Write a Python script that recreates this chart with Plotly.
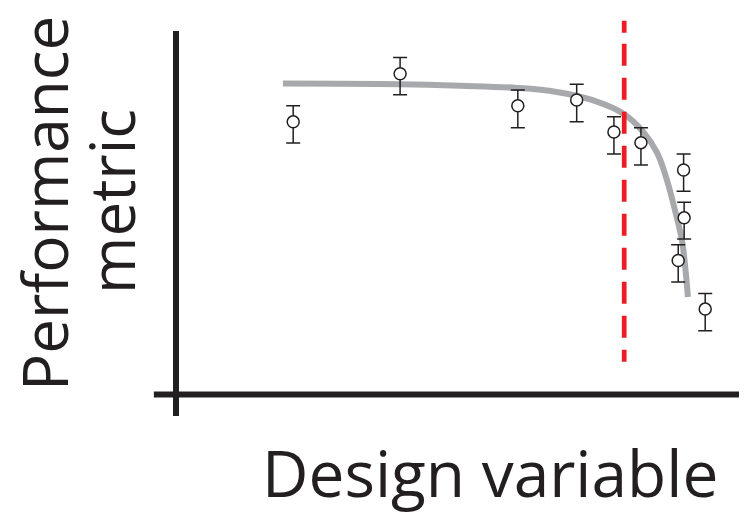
import plotly.graph_objects as go

# ---- data (arbitrary units) ----
pt_x = [2.17, 4.15, 6.33, 7.42, 8.11, 8.61, 9.40, 9.41, 9.30, 9.80]
pt_y = [7.47, 8.79, 7.91, 8.07, 7.19, 6.90, 6.15, 4.84, 3.67, 2.34]
err_plus = [0.44, 0.44, 0.43, 0.43, 0.42, 0.41, 0.44, 0.43, 0.43, 0.43]
err_minus = [0.58, 0.58, 0.60, 0.60, 0.60, 0.61, 0.58, 0.58, 0.59, 0.59]

fit_x = [1.98, 4.15, 5.26, 6.31, 7.05, 7.70, 8.30, 8.65, 8.91, 9.09, 9.24, 9.37, 9.43, 9.48]
fit_y = [8.52, 8.50, 8.46, 8.40, 8.29, 8.07, 7.68, 7.20, 6.62, 5.88, 5.05, 4.22, 3.49, 2.67]

threshold_x = 8.30
threshold_y = [0.87, 10.24]

x_axis_span = [-0.41, 10.44]
y_axis_span = [-0.59, 9.96]

FONT = "Open Sans"
W, H = 739, 507   # page body has an 8px margin
OFF = 8


def px(xp):
    return (xp - OFF) / W


def py(yp):
    return 1 - (yp - OFF) / H


fig = go.Figure()

fig.add_trace(go.Scatter(
    x=fit_x, y=fit_y, mode="lines",
    line=dict(color="#a7a9ac", width=6, shape="spline", smoothing=1.1),
    hoverinfo="skip", showlegend=False))

fig.add_trace(go.Scatter(
    x=pt_x, y=pt_y, mode="markers",
    marker=dict(symbol="circle", size=12, color="white",
                line=dict(color="#231f20", width=1.5)),
    error_y=dict(type="data", symmetric=False, array=err_plus, arrayminus=err_minus,
                 color="#231f20", thickness=1.5, width=7),
    showlegend=False))

# threshold line (dashed red)
dash = "12px,11px," + ",".join(["22px,12px"] * 9) + ",12px,100px"
fig.add_trace(go.Scatter(
    x=[threshold_x, threshold_x], y=[threshold_y[1], threshold_y[0]], mode="lines",
    line=dict(color="#ed1c24", width=4.7, dash=dash),
    hoverinfo="skip", showlegend=False))

# axis lines
fig.add_shape(type="line", x0=0, x1=0, y0=y_axis_span[0], y1=y_axis_span[1],
              line=dict(color="#231f20", width=6), layer="below")
fig.add_shape(type="line", x0=x_axis_span[0], x1=x_axis_span[1], y0=0, y1=0,
              line=dict(color="#231f20", width=6), layer="below")

fig.add_annotation(text="Performance", xref="paper", yref="paper",
                   x=px(44), y=py(204), xanchor="center", yanchor="middle",
                   textangle=-90, showarrow=False,
                   font=dict(family=FONT, size=62, color="#231f20"))
fig.add_annotation(text="metric", xref="paper", yref="paper",
                   x=px(111), y=py(202), xanchor="center", yanchor="middle",
                   textangle=-90, showarrow=False,
                   font=dict(family=FONT, size=62, color="#231f20"))
fig.add_annotation(text="Design variable", xref="paper", yref="paper",
                   x=px(490), y=py(472), xanchor="center", yanchor="middle",
                   showarrow=False,
                   font=dict(family=FONT, size=64, color="#231f20"))

fig.update_layout(
    width=W, height=H,
    margin=dict(l=0, r=0, t=0, b=0),
    paper_bgcolor="white", plot_bgcolor="white",
    xaxis=dict(range=[-3.111, 10.574], visible=False, fixedrange=True),
    yaxis=dict(range=[-3.301, 10.589], visible=False, fixedrange=True),
)

fig.write_html("out.html")
